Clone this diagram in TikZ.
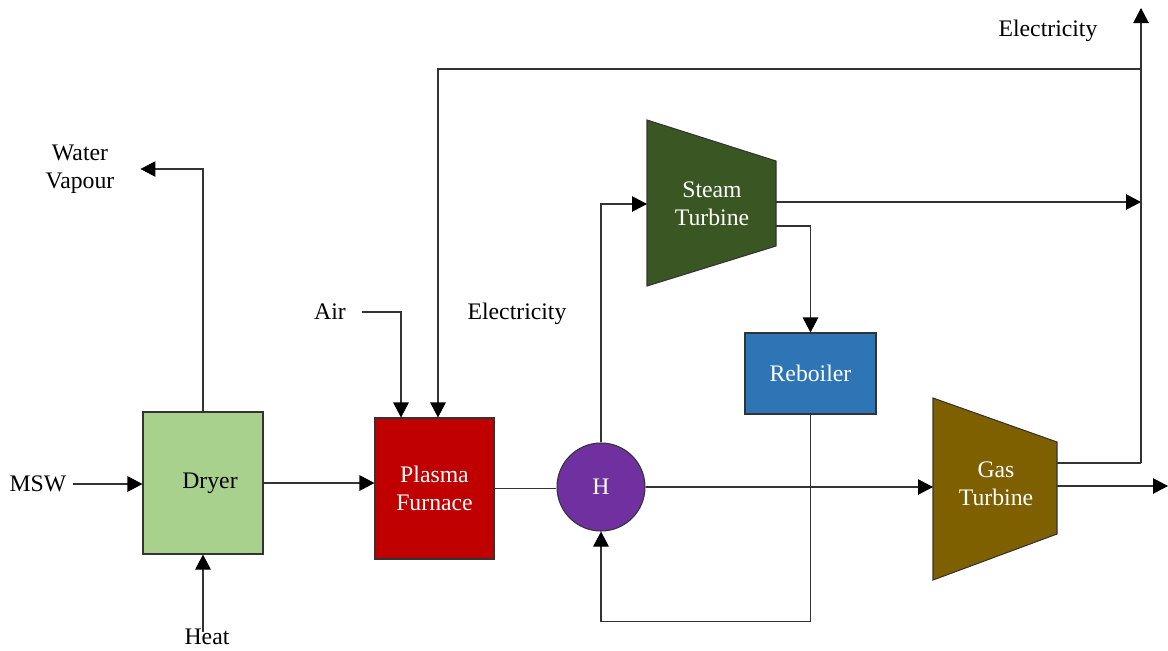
\documentclass[tikz,border=0pt]{standalone}
\usepackage{fontspec}
\setmainfont{Liberation Serif}
\usetikzlibrary{arrows.meta,positioning,calc}
\definecolor{dryerfill}{HTML}{A9D18E}
\definecolor{furnacefill}{HTML}{C00000}
\definecolor{hfill}{HTML}{7030A0}
\definecolor{steamfill}{HTML}{3A5723}
\definecolor{reboilfill}{HTML}{2E75B6}
\definecolor{gasfill}{HTML}{7F6000}

\begin{document}
\begin{tikzpicture}[x=0.2mm,y=-0.2mm,every node/.style={font=\fontsize{13.5}{16}\selectfont},
 unit/.style={draw=black!80,line width=0.6pt,inner sep=0pt,align=center},
 line/.style={draw=black!80,line width=0.6pt},
 flow/.style={line,-{Triangle[length=3mm,width=3.1mm,color=black]}}]
\useasboundingbox (0,0) rectangle (1168,650);
% units
\node[unit,fill=dryerfill,minimum width=24mm,minimum height=28.4mm](dryer) at (203,483){\hspace{2.8mm}Dryer};
\node[unit,fill=furnacefill,text=white,minimum width=23.8mm,minimum height=28.2mm](furnace) at (434.5,488.5){Plasma\\Furnace};
\node[unit,circle,fill=hfill,text=white,minimum size=17.6mm](h) at (601,487){H};
\node[unit,fill=reboilfill,text=white,minimum width=26.2mm,minimum height=16.2mm](reboiler) at (810.5,373.5){Reboiler};
\draw[line,fill=steamfill](647,120)--(776,161)--(776,246)--(647,286)--cycle;
\node[align=center,text=white](st) at (712,204){Steam\\Turbine};
\draw[line,fill=gasfill](933,398)--(1057,442)--(1057,534)--(933,580)--cycle;
\node[align=center,text=white](gt) at (996,484){Gas\\Turbine};
% ports
\coordinate (st-in) at (647,204);\coordinate (st-out) at (776,202);\coordinate (st-reb) at (776,226);
\coordinate (gt-in) at (933,487);\coordinate (gt-up) at (1057,463);\coordinate (gt-out) at (1057,486);
\coordinate (bus) at (1141,463);\coordinate (bus-top) at (1141,8);\coordinate (bus-st) at (1141,202);
\coordinate (elec) at (1141,69);\coordinate (exhaust) at (1168,486);
% labels
\node(msw) at (38,484){MSW};
\node(heat) at (207,637){Heat};
\node[align=center](wv) at (80,169){Water\\Vapour};
\node(air) at (330,312){Air};
\node(el1) at (517,314){Electricity};
\node(el2) at (1048,31){Electricity};
% streams
\draw[flow](msw.east)--(msw.east-|dryer.west);
\draw[flow]([yshift=-1.8mm]heat.north-|dryer.south)--(dryer.south);
\draw[flow](dryer.north)|-([xshift=4mm]wv.east);
\draw[flow](dryer.east)--(dryer.east-|furnace.west);
\draw[flow]([xshift=2mm]air.east)-|([xshift=-6.7mm]furnace.north);
\draw[flow](elec)-|([xshift=0.7mm]furnace.north);
\draw[line](furnace.east)--(furnace.east-|h.west);
\draw[flow](h.east)--(gt-in);
\draw[flow](h.north)|-(st-in);
\draw[flow](st-out)--(bus-st);
\draw[flow](st-reb)-|(reboiler.north);
\draw[flow](reboiler.south)--++(0,207)-|(h.south);
\draw[line](gt-up)--(bus);\draw[flow](bus)--(bus-top);
\draw[flow](gt-out)--(exhaust);
\end{tikzpicture}
\end{document}
